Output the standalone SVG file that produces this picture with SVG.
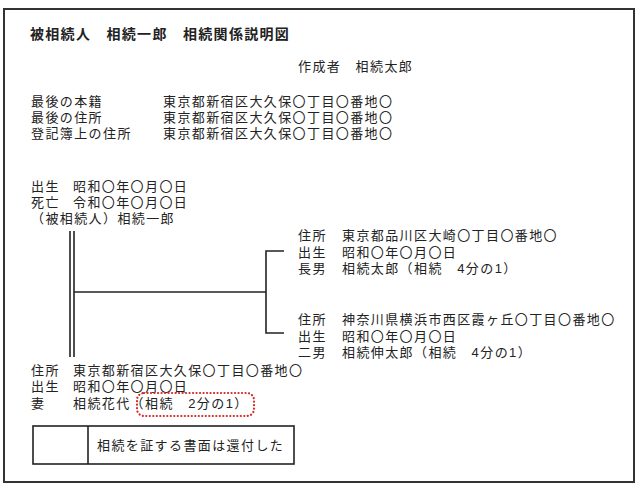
<svg xmlns="http://www.w3.org/2000/svg" width="640" height="487" viewBox="0 0 640 487">
<style>
text{font-family:"Liberation Sans","Noto Sans CJK JP","Noto Sans CJK SC",sans-serif;font-size:13px;letter-spacing:1.4px;fill:#222}
.title{font-size:14px;letter-spacing:1.3px;font-weight:bold}
.ln{stroke:#222;stroke-width:1.6;fill:none}
</style>
<rect x="4" y="9" width="630" height="473" fill="#fff" stroke="#333" stroke-width="2"/>
<g id="header">
<text class="title" x="30" y="39">被相続人　相続一郎　相続関係説明図</text>
<text x="298" y="71">作成者　相続太郎</text>
<text><tspan x="31" y="106">最後の本籍</tspan><tspan x="163" y="106">東京都新宿区大久保〇丁目〇番地〇</tspan><tspan x="31" y="122">最後の住所</tspan><tspan x="163" y="122">東京都新宿区大久保〇丁目〇番地〇</tspan><tspan x="31" y="138">登記簿上の住所</tspan><tspan x="163" y="138">東京都新宿区大久保〇丁目〇番地〇</tspan></text>
</g>
<g id="decedent">
<text><tspan x="31" y="191">出生</tspan><tspan x="73" y="191">昭和〇年〇月〇日</tspan><tspan x="31" y="207">死亡</tspan><tspan x="73" y="207">令和〇年〇月〇日</tspan><tspan x="31" y="223">（被相続人）相続一郎</tspan></text>
</g>
<g id="son1">
<text><tspan x="298" y="240">住所</tspan><tspan x="342" y="240">東京都品川区大崎〇丁目〇番地〇</tspan><tspan x="298" y="257">出生</tspan><tspan x="342" y="257">昭和〇年〇月〇日</tspan><tspan x="298" y="273">長男</tspan><tspan x="342" y="273">相続太郎（相続　4分の1）</tspan></text>
</g>
<g id="son2">
<text><tspan x="298" y="324">住所</tspan><tspan x="342" y="324">神奈川県横浜市西区霞ヶ丘〇丁目〇番地〇</tspan><tspan x="298" y="341">出生</tspan><tspan x="342" y="341">昭和〇年〇月〇日</tspan><tspan x="298" y="357">二男</tspan><tspan x="342" y="357">相続伸太郎（相続　4分の1）</tspan></text>
</g>
<g id="wife">
<text><tspan x="31" y="375">住所</tspan><tspan x="73" y="375">東京都新宿区大久保〇丁目〇番地〇</tspan><tspan x="31" y="391">出生</tspan><tspan x="73" y="391">昭和〇年〇月〇日</tspan><tspan x="31" y="408">妻</tspan><tspan x="73" y="408">相続花代（相続　2分の1）</tspan></text>
<rect x="137" y="393" width="117" height="23" rx="7" fill="none" stroke="#d42a2a" stroke-width="2.2" stroke-dasharray="0.1 3.4" stroke-linecap="round"/>
</g>
<g id="note">
<rect x="33" y="426" width="261" height="38" fill="none" stroke="#222" stroke-width="1.6"/>
<line x1="88" y1="426" x2="88" y2="464" stroke="#222" stroke-width="1.6"/>
<text x="97" y="450">相続を証する書面は還付した</text>
</g>
<g id="connectors">
<line class="ln" x1="70" y1="231" x2="70" y2="357"/>
<line class="ln" x1="74" y1="231" x2="74" y2="357"/>
<line class="ln" x1="74" y1="292" x2="266" y2="292"/>
<polyline class="ln" points="284,251 266,251 266,333 284,333"/>
</g>
</svg>
